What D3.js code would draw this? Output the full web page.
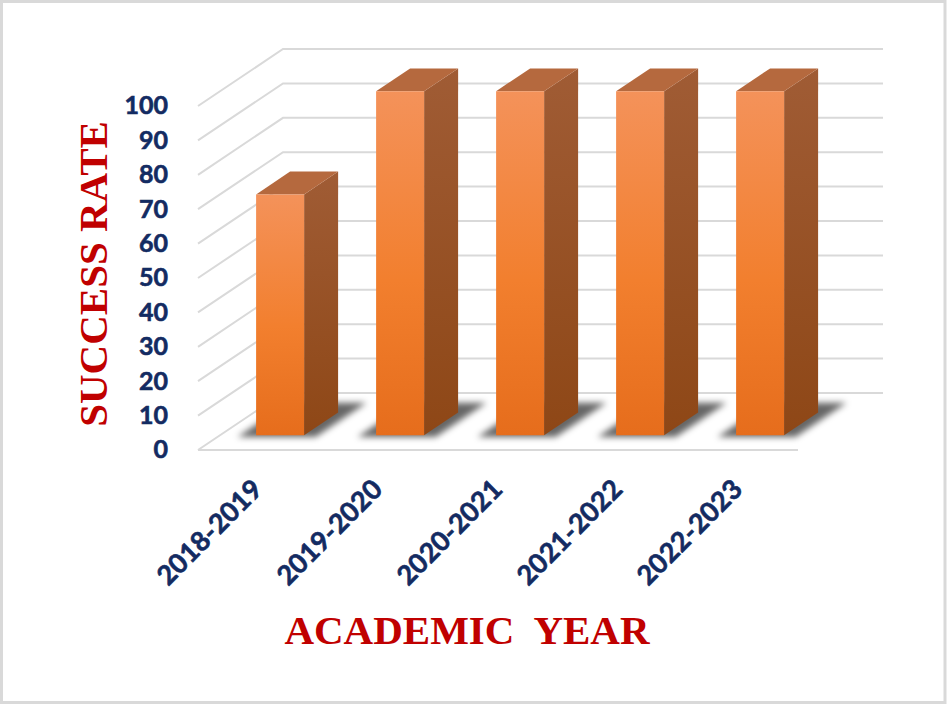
<!DOCTYPE html>
<html>
<head>
<meta charset="utf-8">
<script src="https://cdn.jsdelivr.net/npm/d3@7"></script>
<style>
  html, body { margin: 0; padding: 0; background: #fff; }
  svg { display: block; }
</style>
</head>
<body>
<svg id="chart" width="948" height="705"></svg>
<script>
// ---- data ----
const categories = ["2018-2019", "2019-2020", "2020-2021", "2021-2022", "2022-2023"];
const successRate = [70, 100, 100, 100, 100];
const yTicks = [0, 10, 20, 30, 40, 50, 60, 70, 80, 90, 100];
const yAxisTitle = "SUCCESS RATE";
const xAxisTitle = "ACADEMIC  YEAR";

// ---- layout ----
const W = 948, H = 705;
const svg = d3.select("#chart");

const x = d3.scaleBand().domain(categories).range([198, 798]);
const y = d3.scaleLinear().domain([0, 100]).range([450, 106]);
const DX = 85, DY = -57;            // depth vector (front -> back wall)
const P = (xf, v, z) => [xf + DX * z, y(v) + DY * z];
const Z0 = 0.26, Z1 = 0.66;         // bar depth range
const barFrac = 0.4;
const navy = "#132B62";

const defs = svg.append("defs");
const gFront = defs.append("linearGradient").attr("id", "gFront").attr("x1", 0).attr("y1", 0).attr("x2", 0).attr("y2", 1);
gFront.append("stop").attr("offset", "0%").attr("stop-color", "#F4925A");
gFront.append("stop").attr("offset", "55%").attr("stop-color", "#F27F2E");
gFront.append("stop").attr("offset", "100%").attr("stop-color", "#E66D1C");
const gSide = defs.append("linearGradient").attr("id", "gSide").attr("x1", 0).attr("y1", 0).attr("x2", 0).attr("y2", 1);
gSide.append("stop").attr("offset", "0%").attr("stop-color", "#A05C35");
gSide.append("stop").attr("offset", "100%").attr("stop-color", "#8E4716");
const blur = defs.append("filter").attr("id", "blur").attr("x", "-30%").attr("y", "-30%").attr("width", "160%").attr("height", "160%");
blur.append("feGaussianBlur").attr("stdDeviation", 3.4);

// border
svg.append("rect").attr("x", 1.5).attr("y", 1.5).attr("width", W - 4.5).attr("height", H - 4)
  .attr("fill", "#fff").attr("stroke", "#d9d9d9").attr("stroke-width", 3);

// gridlines (side diagonal + back wall)
const x0 = x.range()[0], x1 = x.range()[1];
const grid = svg.append("g").attr("fill", "none").attr("stroke", "#d9d9d9").attr("stroke-width", 2);
grid.selectAll("path.g").data(yTicks).join("path").attr("class", "g")
  .attr("d", v => d3.line()([P(x0, v, 0), P(x0, v, 1), P(x1, v, 1)]));
// floor front edge
grid.append("path").attr("d", d3.line()([P(x0, 0, 0), P(x1, 0, 0)]));

// tick labels
svg.append("g").selectAll("text").data(yTicks).join("text")
  .attr("x", 168).attr("y", v => y(v) + 2)
  .attr("text-anchor", "end").attr("dominant-baseline", "middle")
  .attr("font-family", "Lato, 'Open Sans', sans-serif").attr("font-weight", 700)
  .attr("font-size", 25).attr("fill", navy).attr("stroke", navy).attr("stroke-width", 0.6)
  .text(d => d);

const bars = categories.map((c, i) => {
  const cx = x(c) + x.bandwidth() / 2;
  const hw = x.bandwidth() * barFrac / 2;
  return { c, v: successRate[i], L: cx - hw, R: cx + hw };
});

// shadows
svg.append("g").attr("filter", "url(#blur)").selectAll("path").data(bars).join("path")
  .attr("d", b => d3.line()([P(b.L - 16, 0, 0.23), P(b.R + 14, 0, 0.23), P(b.R + 14, 0, 0.83), P(b.L - 16, 0, 0.83)]) + "Z")
  .attr("fill", "#000").attr("opacity", 0.6);

// bars
const bg = svg.append("g").selectAll("g").data(bars).join("g");
bg.append("path").attr("fill", "url(#gSide)")
  .attr("d", b => d3.line()([P(b.R, 0, Z0), P(b.R, b.v, Z0), P(b.R, b.v, Z1), P(b.R, 0, Z1)]) + "Z");
bg.append("path").attr("fill", "#B5693E")
  .attr("d", b => d3.line()([P(b.L, b.v, Z0), P(b.R, b.v, Z0), P(b.R, b.v, Z1), P(b.L, b.v, Z1)]) + "Z");
bg.append("path").attr("fill", "url(#gFront)")
  .attr("d", b => d3.line()([P(b.L, b.v, Z0), P(b.R, b.v, Z0), P(b.R, 0, Z0), P(b.L, 0, Z0)]) + "Z");

// category labels
svg.append("g").selectAll("text").data(categories).join("text")
  .attr("transform", c => `translate(${x(c) + x.bandwidth() / 2 + 6},491) rotate(-45)`)
  .attr("text-anchor", "end")
  .attr("font-family", "Lato, 'Open Sans', sans-serif").attr("font-weight", 700)
  .attr("font-size", 27).attr("fill", navy).attr("stroke", navy).attr("stroke-width", 0.6)
  .text(d => d);

// axis titles
svg.append("text")
  .attr("transform", "translate(107,274) rotate(-90)")
  .attr("text-anchor", "middle")
  .attr("font-family", "'Liberation Serif', 'Times New Roman', serif").attr("font-weight", 700)
  .attr("font-size", 41).attr("fill", "#C00000")
  .text(yAxisTitle);
svg.append("text")
  .attr("x", 467).attr("y", 644)
  .attr("text-anchor", "middle").style("white-space", "pre")
  .attr("font-family", "'Liberation Serif', 'Times New Roman', serif").attr("font-weight", 700)
  .attr("font-size", 41).attr("fill", "#C00000")
  .text(xAxisTitle);
</script>
</body>
</html>
